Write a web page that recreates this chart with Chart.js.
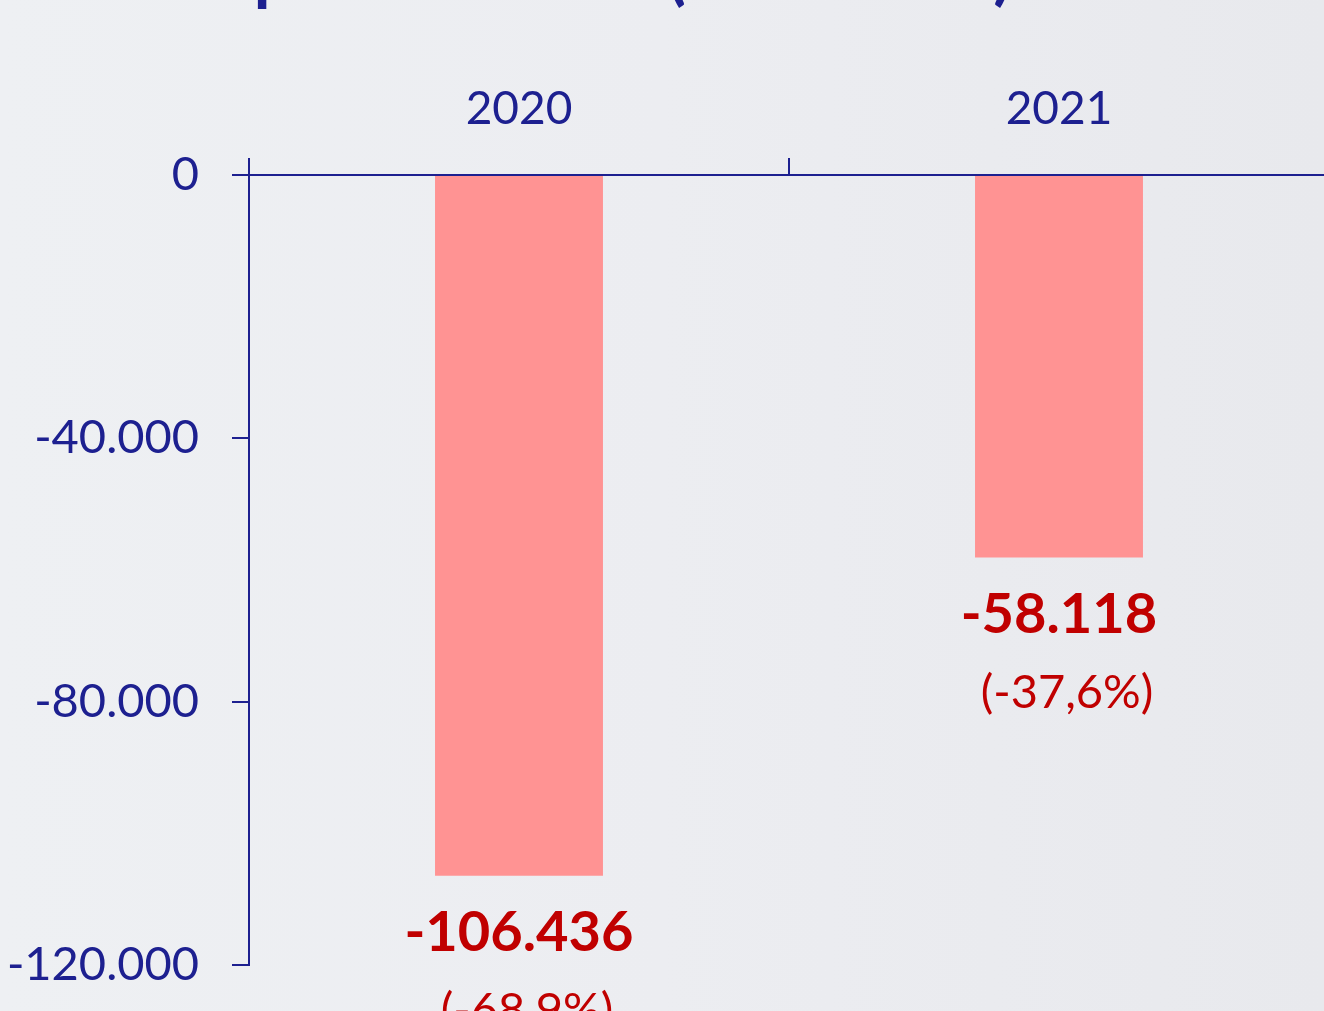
<!DOCTYPE html>
<html>
<head>
<meta charset="utf-8">
<script src="https://cdn.jsdelivr.net/npm/chart.js@4/dist/chart.umd.min.js"></script>
<style>
  html, body { margin: 0; padding: 0; overflow: hidden; }
  body {
    width: 1324px; height: 1011px;
    background: linear-gradient(90deg, #eef0f3 0%, #ecedf1 50%, #e8e9ed 100%);
  }
  canvas { display: block; }
</style>
</head>
<body>
<canvas id="chart" width="1340" height="1011"></canvas>
<script>
// data
const years = ["2020", "2021"];
const changeValues = [-106436, -58118];
const changePct = [-68.9, -37.6];
const yTickValues = [0, -40000, -80000, -120000];
const titleText = "Gasto anual respecto a 2019 (millones €)";

const navy = "#1d2090";
const red = "#c00000";

// 106436 -> "106.436", 68.9 -> "68,9"
const fmtThousands = (v) => {
  const s = String(Math.abs(Math.round(v))).replace(/\B(?=(\d{3})+(?!\d))/g, ".");
  return (v < 0 ? "-" : "") + s;
};
const fmtPct = (v) => "(" + v.toFixed(1).replace(".", ",") + "%)";

const labelsPlugin = {
  id: "barLabels",
  afterDatasetsDraw(chart) {
    const ctx = chart.ctx;
    const meta = chart.getDatasetMeta(0);
    ctx.save();
    ctx.textAlign = "center";
    ctx.textBaseline = "alphabetic";
    ctx.fillStyle = red;
    meta.data.forEach((bar, i) => {
      ctx.font = "bold 56px Lato";
      ctx.fillText(fmtThousands(changeValues[i]), bar.x, bar.y + 75);
      ctx.font = "47px Lato";
      ctx.fillText(fmtPct(changePct[i]), bar.x + 8, bar.y + 150);
    });
    ctx.restore();
  },
};

// title sits mostly above the visible area, as in the reference
const titlePlugin = {
  id: "cutTitle",
  afterDraw(chart) {
    const ctx = chart.ctx;
    ctx.save();
    ctx.font = "bold 68px Lato";
    ctx.fillStyle = navy;
    ctx.textAlign = "right";
    ctx.textBaseline = "alphabetic";
    ctx.fillText(titleText, 1012, -3);
    ctx.restore();
  },
};

new Chart(document.getElementById("chart").getContext("2d"), {
  type: "bar",
  data: {
    labels: years,
    datasets: [
      {
        data: changeValues,
        backgroundColor: "#ff9393",
        borderWidth: 0,
        categoryPercentage: 1,
        barPercentage: 0.311,
      },
    ],
  },
  options: {
    responsive: false,
    animation: false,
    layout: { padding: { left: 0, top: 0, right: 11, bottom: 46 } },
    plugins: {
      legend: { display: false },
      tooltip: { enabled: false },
    },
    scales: {
      x: {
        position: "top",
        offset: true,
        grid: {
          offset: true,
          drawOnChartArea: false,
          tickLength: 17,
          color: navy,
          lineWidth: 2,
        },
        border: { color: navy, width: 2 },
        ticks: {
          color: navy,
          font: { family: "Lato", size: 46 },
          padding: 21,
          maxRotation: 0,
        },
        afterFit: (s) => { s.height = 175; },
      },
      y: {
        min: yTickValues[yTickValues.length - 1],
        max: yTickValues[0],
        afterBuildTicks: (s) => { s.ticks = yTickValues.map((v) => ({ value: v })); },
        grid: {
          drawOnChartArea: false,
          tickLength: 17,
          color: navy,
          lineWidth: 2,
        },
        border: { color: navy, width: 2 },
        ticks: {
          color: navy,
          font: { family: "Lato", size: 47 },
          padding: 33,
          callback: (v) => fmtThousands(v),
        },
        afterFit: (s) => {
          s.width = 249;
          s.paddingTop = 0;
          s.paddingBottom = 0;
        },
      },
    },
  },
  plugins: [labelsPlugin, titlePlugin],
});
</script>
</body>
</html>
